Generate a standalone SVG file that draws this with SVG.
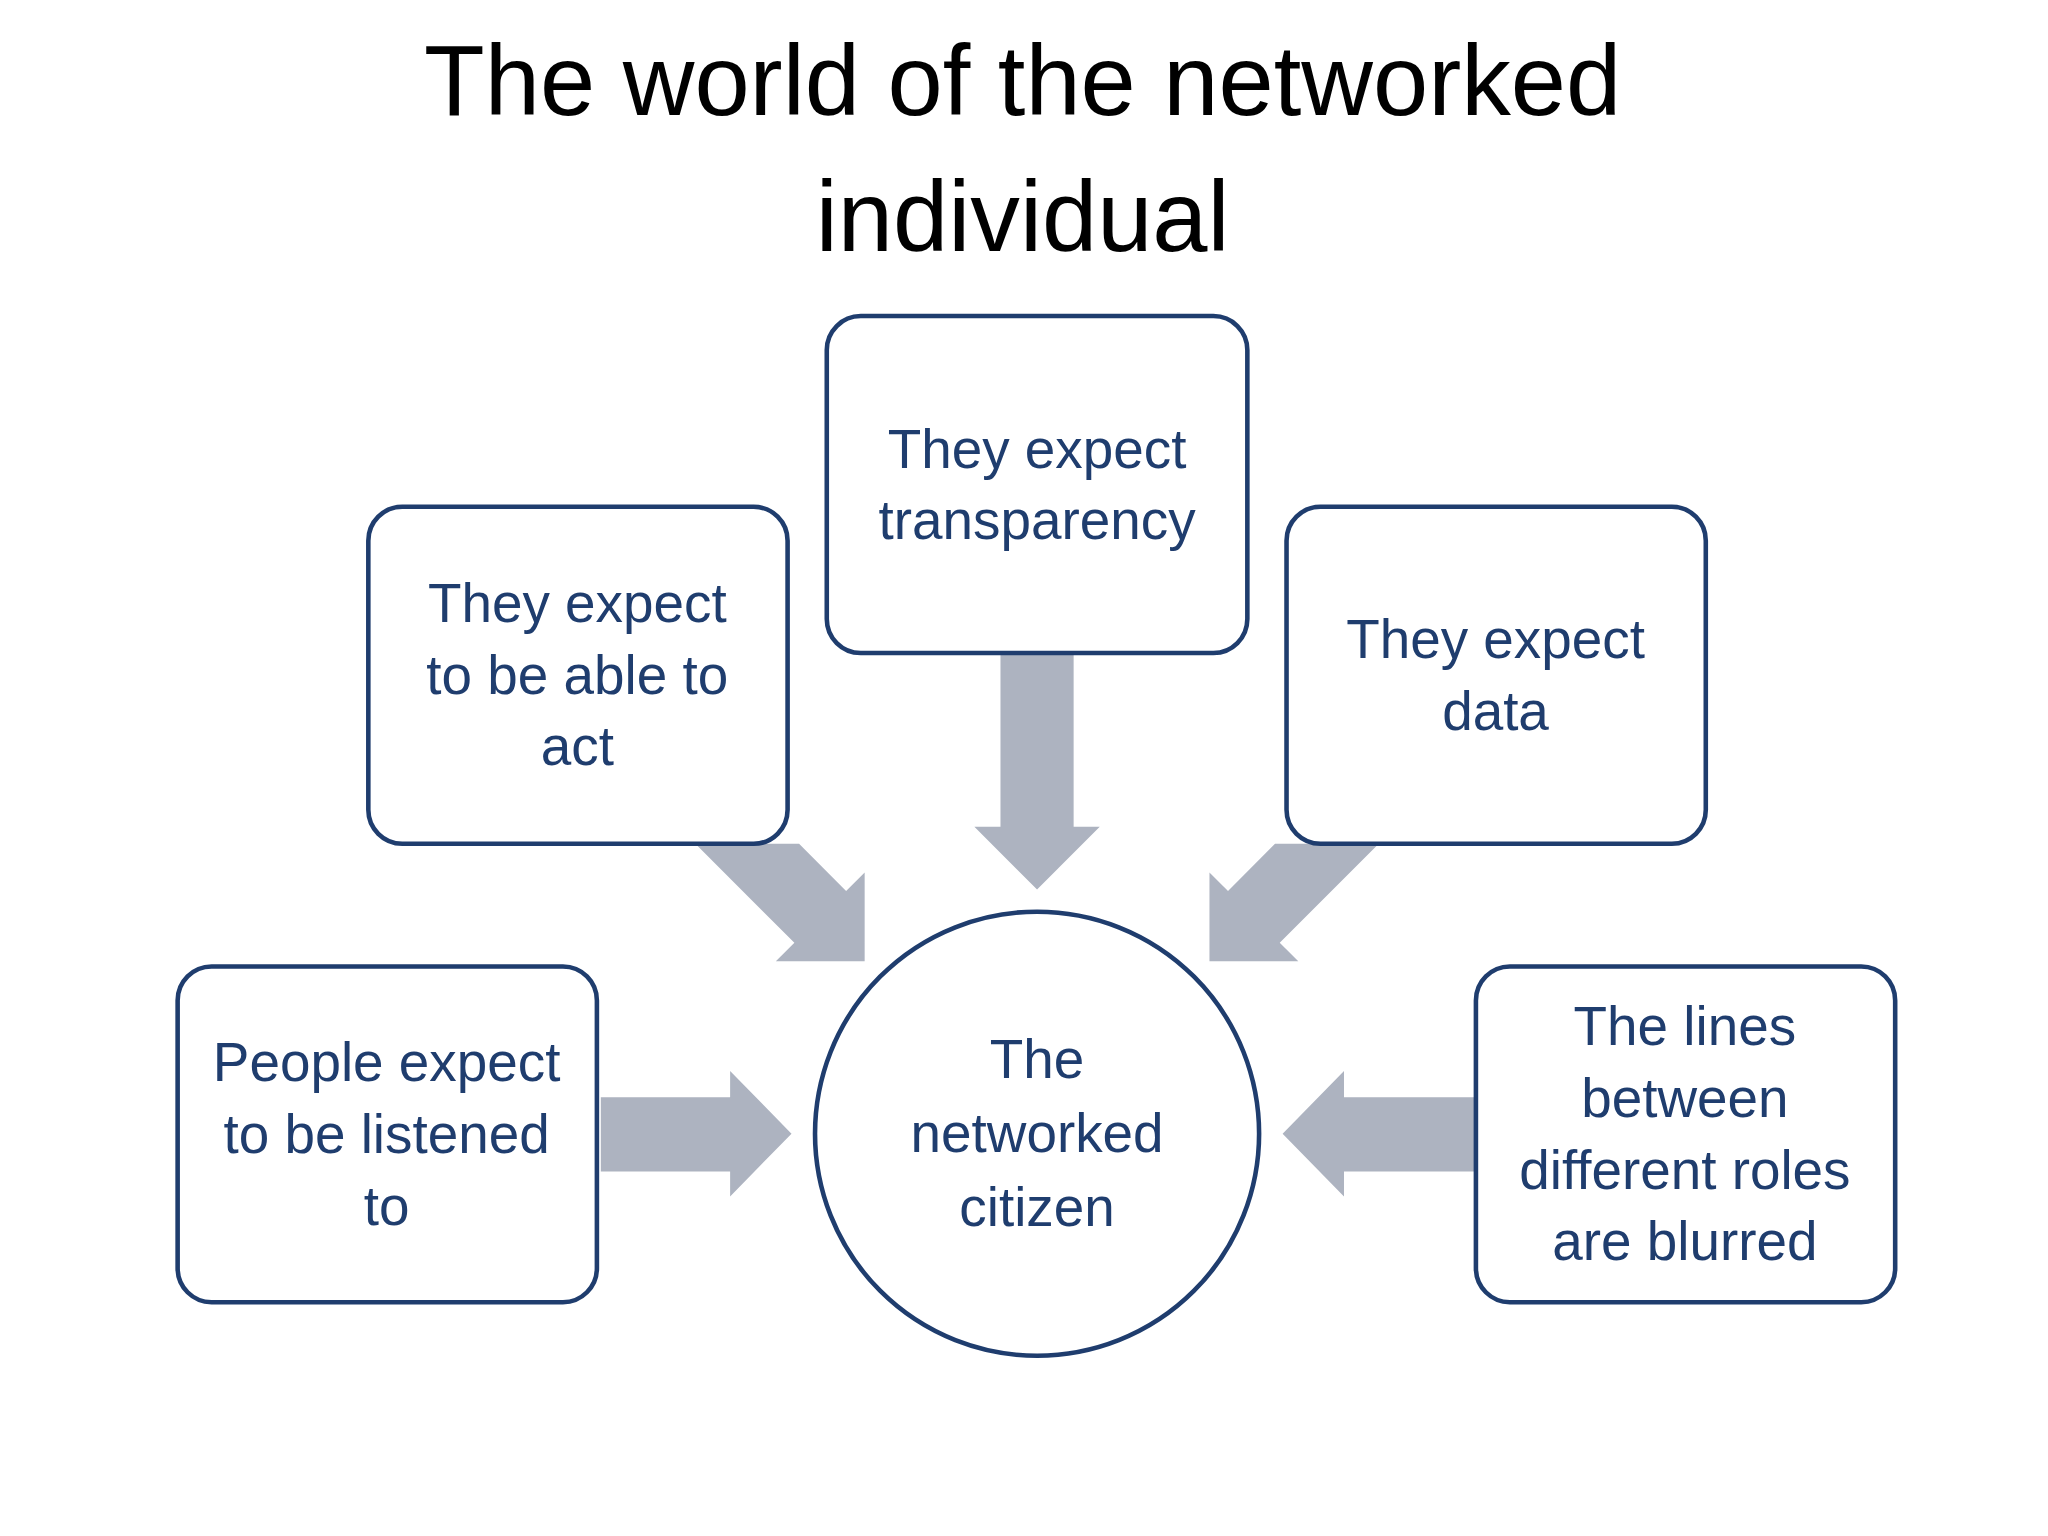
<svg xmlns="http://www.w3.org/2000/svg" width="2048" height="1536" viewBox="0 0 2048 1536">
<style>
.t{font-family:"Liberation Sans",Arial,sans-serif;font-size:42px;fill:#1f3d6e;text-anchor:middle}
.h{font-family:"Liberation Sans",Arial,sans-serif;font-size:76px;fill:#000;text-anchor:middle}
.b{fill:#fff;stroke:#1f3d6e;stroke-width:3.5}
.a{fill:#adb3c0}
</style>
<rect width="2048" height="1536" fill="#fff"/>
<g transform="scale(1.30612)">
<g id="title"><text class="h" x="783" y="88">The world of the networked</text><text class="h" x="783" y="192">individual</text></g>
<g id="connectors">
<polygon class="a" points="766,500 822,500 822,633 842,633 794,681 746,633 766,633"/>
<polygon class="a" points="460,840 559,840 559,820 606,868 559,916 559,897 460,897"/>
<polygon class="a" points="1130,840 1029,840 1029,820 982,868 1029,916 1029,897 1130,897"/>
<polygon class="a" points="532.4,646 611.8,646 647.8,682.2 662,668 662,736 594,736 608.2,721.8"/>
<polygon class="a" points="1055.6,646 976.2,646 940.2,682.2 926,668 926,736 994,736 979.8,721.8"/>
</g>
<g id="n-transparency"><rect class="b" x="633" y="242" width="322" height="258" rx="26"/><text class="t" x="794" y="358">They expect</text><text class="t" x="794" y="413">transparency</text></g>
<g id="n-act"><rect class="b" x="282" y="388" width="321" height="258" rx="26"/><text class="t" x="442" y="476">They expect</text><text class="t" x="442" y="531">to be able to</text><text class="t" x="442" y="586">act</text></g>
<g id="n-data"><rect class="b" x="985" y="388" width="321" height="258" rx="26"/><text class="t" x="1145" y="504">They expect</text><text class="t" x="1145" y="559">data</text></g>
<g id="n-listened"><rect class="b" x="136" y="740" width="321" height="257" rx="26"/><text class="t" x="296" y="828">People expect</text><text class="t" x="296" y="883">to be listened</text><text class="t" x="296" y="938">to</text></g>
<g id="n-lines"><rect class="b" x="1130" y="740" width="321" height="257" rx="26"/><text class="t" x="1290" y="800">The lines</text><text class="t" x="1290" y="855">between</text><text class="t" x="1290" y="910">different roles</text><text class="t" x="1290" y="965">are blurred</text></g>
<g id="n-citizen"><circle class="b" cx="794" cy="868" r="170"/><text class="t" x="794" y="825">The</text><text class="t" x="794" y="882">networked</text><text class="t" x="794" y="939">citizen</text></g>
</g>
</svg>
